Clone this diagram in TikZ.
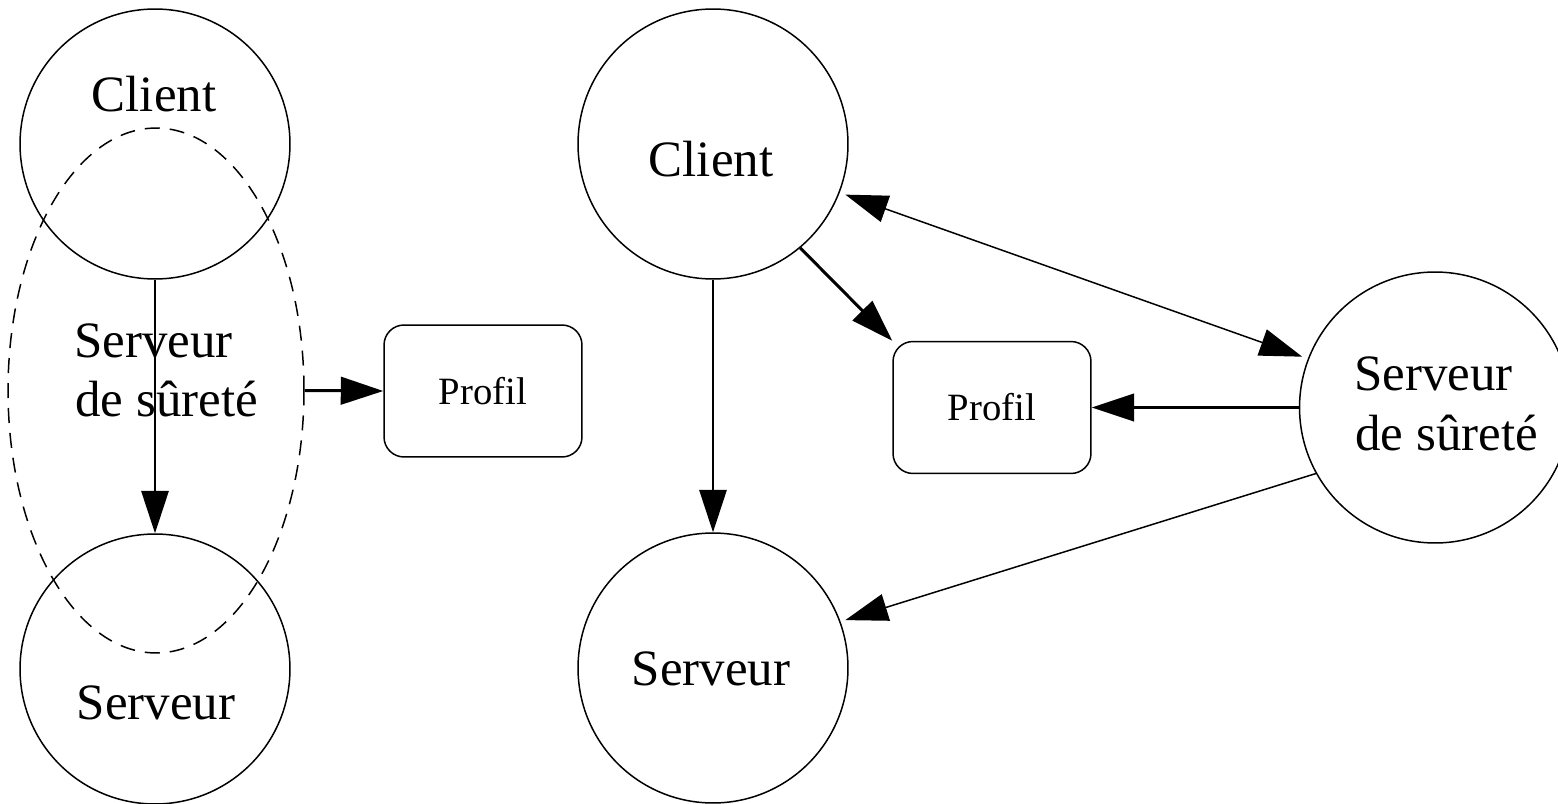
\documentclass[tikz,border=0pt]{standalone}
\usepackage{fontspec}
\setmainfont{Liberation Serif}
\usetikzlibrary{arrows.meta,shapes.geometric}
\tikzset{
  thinline/.style={line width=0.85pt},
  thickline/.style={line width=1.7pt},
  tip/.style={-{Triangle[length=0.85cm,width=0.55cm]}},
  bigcircle/.style={circle,draw,thinline,minimum size=5.4cm,inner sep=0pt},
  profilbox/.style={draw,thinline,rounded corners=0.4cm,minimum width=3.96cm,minimum height=2.64cm,inner sep=0pt,font=\fontsize{22pt}{26pt}\selectfont},
  bigtext/.style={inner sep=0pt,font=\fontsize{29pt}{34pt}\selectfont},
}
\begin{document}
\begin{tikzpicture}[x=0.02cm,y=-0.02cm]
\useasboundingbox (0,0) rectangle (1558,804);

% ---------- left diagram ----------
\node[bigcircle] (lc) at (155,144) {};
\node[bigcircle] (ls) at (155,669) {};
\node[ellipse,draw,dashed,thinline,dash pattern=on 0.3cm off 0.2cm,minimum width=5.92cm,minimum height=10.5cm,inner sep=0pt] (ell) at (156,390.5) {};
\node[profilbox] (lp) at (483,391) {Profil};

\node[bigtext,anchor=base] (lctext) at (154,112) {Client};
\node[bigtext,anchor=base] (lstext) at (156,719) {Serveur};
\node[bigtext,anchor=base west] (lsur1) at (74,357) {Serveur};
\node[bigtext,anchor=base west] (lsur2) at (75,416) {de sûreté};

\draw[thinline,tip] (lc.south) -- (ls.north);
\draw[thickline,tip] (ell.east) -- (lp.west);

% ---------- right diagram ----------
\node[bigcircle] (rc) at (713,144) {};
\node[bigcircle] (rs) at (713,668) {};
\node[bigcircle,minimum size=5.42cm] (rss) at (1435,407.5) {};
\node[profilbox] (rp) at (992,407.5) {Profil};

\node[bigtext,anchor=base] (rctext) at (711,177) {Client};
\node[bigtext,anchor=base] (rstext) at (711,685) {Serveur};
\node[bigtext,anchor=base west] (rsur1) at (1354,390) {Serveur};
\node[bigtext,anchor=base west] (rsur2) at (1355,450) {de sûreté};

\draw[thinline,tip] (rc.south) -- (rs.north);
\draw[thickline,tip] (rc.-50) -- (rp.north west);
\draw[thinline,{Triangle[length=0.85cm,width=0.55cm]}-{Triangle[length=0.85cm,width=0.55cm]},shorten <=0.12cm,shorten >=0.12cm] (rc.-21) -- (rss.159);
\draw[thickline,tip] (rss.west) -- (rp.east);
\draw[thinline,tip,shorten >=0.1cm] (rss.209.5) -- (rs.20);
\end{tikzpicture}
\end{document}
